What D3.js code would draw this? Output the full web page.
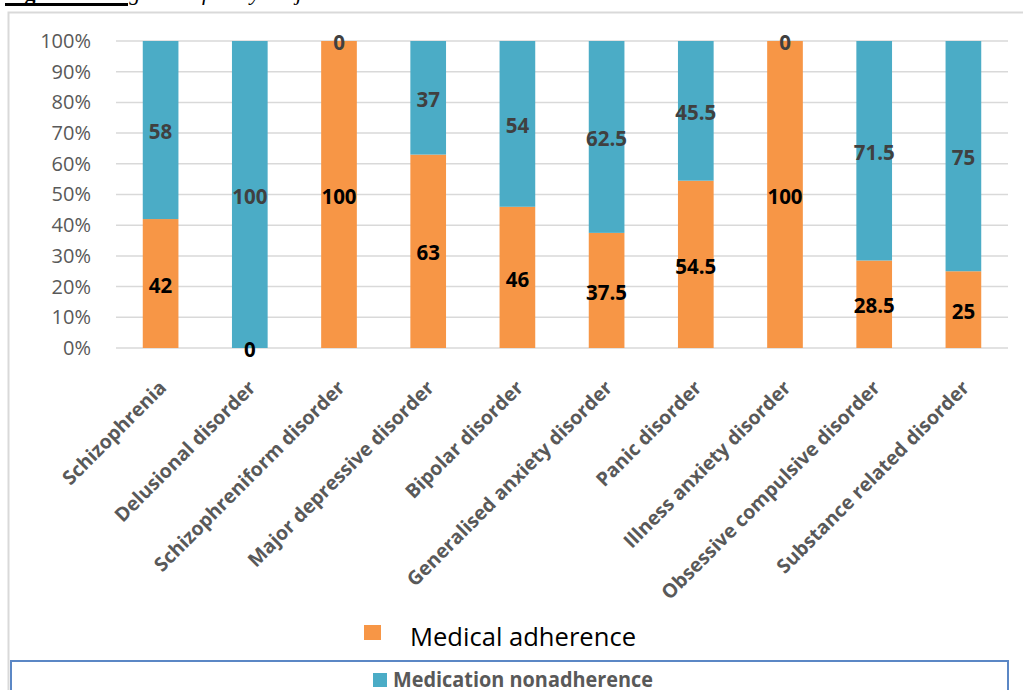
<!DOCTYPE html>
<html>
<head>
<meta charset="utf-8">
<script src="https://cdn.jsdelivr.net/npm/d3@7"></script>
<style>
  html, body { margin: 0; padding: 0; background: #fff; }
  svg { display: block; }
</style>
</head>
<body>
<svg id="chart" width="1023" height="690"></svg>
<script>
const categories = [
  "Schizophrenia", "Delusional disorder", "Schizophreniform disorder",
  "Major depressive disorder", "Bipolar disorder", "Generalised anxiety disorder",
  "Panic disorder", "Illness anxiety disorder", "Obsessive compulsive disorder",
  "Substance related disorder"
];
const adherence    = [42, 0, 100, 63, 46, 37.5, 54.5, 100, 28.5, 25];
const nonadherence = [58, 100, 0, 37, 54, 62.5, 45.5, 0, 71.5, 75];
const yTicks = [0, 10, 20, 30, 40, 50, 60, 70, 80, 90, 100];
const seriesNames = ["Medical adherence", "Medication nonadherence"];
const colors = ["#F79646", "#4BACC6"];
const labelColors = ["#000000", "#404040"];
const captionBold = "Figure 1:";
const captionRest = " Diagnosis of study subjects and adherence status.";

const svg = d3.select("#chart");
const FONT = "'Open Sans', 'Noto Sans', sans-serif";

// caption (mostly cut off at top, as in the source page)
const cap = svg.append("text").attr("x", 5).attr("y", 0)
  .attr("font-family", "'Liberation Serif', serif").attr("font-size", 22).attr("fill", "#000");
cap.append("tspan").attr("font-weight", "bold").text(captionBold);
cap.append("tspan").attr("font-style", "italic").text(captionRest);
svg.append("rect").attr("x", 5).attr("y", 3).attr("width", 123).attr("height", 3).attr("fill", "#000");

// outer chart border (top + left)
svg.append("path").attr("d", "M1023,12.5 H8.5 V690").attr("fill", "none")
  .attr("stroke", "#d9d9d9").attr("stroke-width", 2);

const x = d3.scaleBand().domain(categories).range([116, 1008]).paddingInner(0.6).paddingOuter(0.3);
const y = d3.scaleLinear().domain([0, 100]).range([348, 41]);

// gridlines
svg.append("g").selectAll("line").data(yTicks).join("line")
  .attr("x1", 116).attr("x2", 1008)
  .attr("y1", d => y(d)).attr("y2", d => y(d))
  .attr("stroke", "#d9d9d9").attr("stroke-width", 1.5);

// y axis labels
const yAxis = d3.axisLeft(y).tickValues(yTicks).tickFormat(d => d + "%").tickSize(0).tickPadding(0);
const yg = svg.append("g").attr("transform", "translate(91,0)").call(yAxis);
yg.select(".domain").remove();
yg.selectAll("text").attr("font-family", FONT).attr("font-size", 20).attr("fill", "#595959");

// stacked data
const rows = categories.map((c, i) => ({ cat: c, a: adherence[i], n: nonadherence[i] }));
const stack = d3.stack().keys(["a", "n"])(rows);

stack.forEach((layer, li) => {
  svg.append("g").selectAll("rect").data(layer).join("rect")
    .attr("x", d => x(d.data.cat))
    .attr("width", x.bandwidth())
    .attr("y", d => y(d[1]))
    .attr("height", d => y(d[0]) - y(d[1]))
    .attr("fill", colors[li]);
});

stack.forEach((layer, li) => {
  svg.append("g").selectAll("text").data(layer).join("text")
    .attr("x", d => x(d.data.cat) + x.bandwidth() / 2)
    .attr("y", d => (y(d[0]) + y(d[1])) / 2 + 2)
    .attr("dy", "0.35em")
    .attr("text-anchor", "middle")
    .attr("font-family", FONT).attr("font-weight", "bold").attr("font-size", 20.5)
    .attr("fill", labelColors[li])
    .text(d => d.data[li === 0 ? "a" : "n"]);
});

// x category labels rotated
svg.append("g").selectAll("text").data(categories).join("text")
  .attr("transform", d => `translate(${x(d) + x.bandwidth() / 2 + 7},${389}) rotate(-45)`)
  .attr("text-anchor", "end")
  .attr("font-family", FONT).attr("font-weight", "bold").attr("font-size", 19.5)
  .attr("fill", "#595959")
  .text(d => d);

// legend 1
svg.append("rect").attr("x", 364).attr("y", 625).attr("width", 17).attr("height", 15).attr("fill", colors[0]);
svg.append("text").attr("x", 410).attr("y", 646)
  .attr("font-family", FONT).attr("font-size", 25).attr("fill", "#000")
  .attr("textLength", 226).attr("lengthAdjust", "spacingAndGlyphs")
  .text(seriesNames[0]);

// legend 2 box
svg.append("rect").attr("x", 11).attr("y", 661).attr("width", 997).attr("height", 60)
  .attr("fill", "#fff").attr("stroke", "#5B87C5").attr("stroke-width", 2);
svg.append("rect").attr("x", 373).attr("y", 673).attr("width", 14).attr("height", 14).attr("fill", colors[1]);
svg.append("text").attr("x", 393).attr("y", 687)
  .attr("font-family", FONT).attr("font-weight", "bold").attr("font-size", 22).attr("fill", "#595959")
  .attr("textLength", 260).attr("lengthAdjust", "spacingAndGlyphs")
  .text(seriesNames[1]);
</script>
</body>
</html>
